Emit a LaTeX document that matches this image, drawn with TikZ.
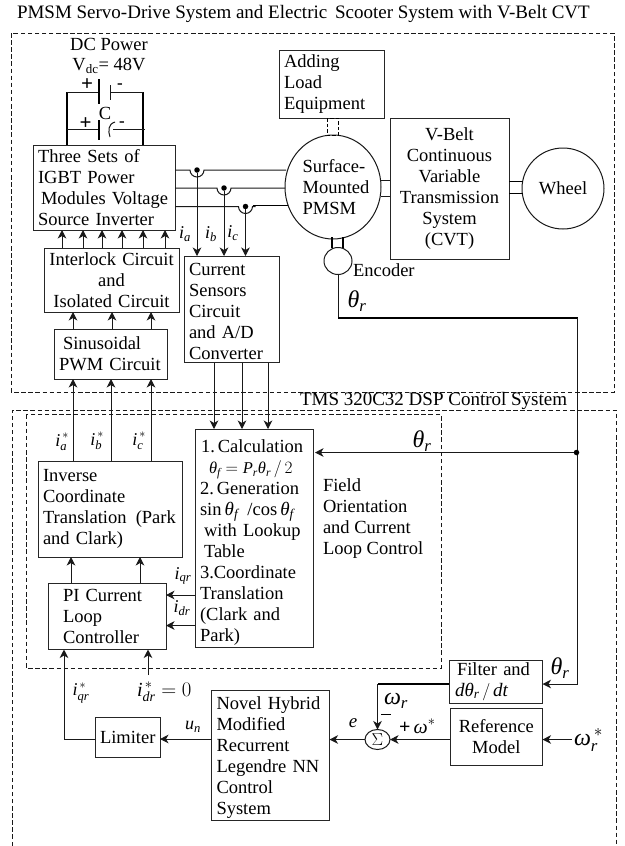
\documentclass[tikz,border=0pt]{standalone}
\usepackage{fontspec}
\usepackage{amsmath}
\setmainfont{Liberation Serif}
\usetikzlibrary{arrows.meta,calc,shapes.geometric}
\newcommand{\ti}[1]{\textit{#1}}
\newcommand{\bx}[7][]{%
  \pgfmathsetmacro{\bxw}{#5-#3}\pgfmathsetmacro{\bxh}{#6-#4}%
  \pgfmathsetmacro{\bxt}{#5-#3-10}%
  \node[boxn,minimum width=\bxw pt,minimum height=\bxh pt,text width=\bxt pt,#1] (#2) at ($(#3,#4)!.5!(#5,#6)$) {#7};}
\tikzset{
  base/.style={font=\fontsize{18.5}{21}\selectfont},
  boxn/.style={base,draw=black!85,line width=1pt,rectangle,inner xsep=5pt,inner ysep=0pt,outer sep=0pt,align=left},
  lab/.style={base,inner sep=0pt,outer sep=0pt,align=center},
  sym/.style={inner sep=0pt,outer sep=0pt,font=\fontsize{18}{20}\selectfont},
  bigsym/.style={inner sep=0pt,outer sep=0pt,font=\fontsize{24}{26}\selectfont},
  round/.style={base,draw=black!90,line width=1pt,ellipse,inner sep=0pt,outer sep=0pt},
  wire/.style={line width=1pt,draw=black!90},
  heavy/.style={line width=1.6pt,draw=black},
  arr/.style={wire,-{Stealth[length=8.5pt,width=8.5pt,inset=2.5pt]}},
  dsh/.style={line width=1pt,dash pattern=on 4.5pt off 2.6pt,draw=black!90},
  dotn/.style={circle,fill=black,inner sep=0pt,outer sep=0pt,minimum size=5.5pt},
}
\begin{document}
\begin{tikzpicture}[x=1pt,y=-1pt]
\useasboundingbox (0,0) rectangle (624,846);
\fill[white] (0,0) rectangle (624,846);
% title
\node[lab,anchor=west,font=\fontsize{19}{21}\selectfont] (title) at (17,13.5) {PMSM Servo-Drive System and Electric\hspace{3pt} Scooter System with V-Belt CVT};
% dashed frames
\coordinate (fa) at (11,33); \coordinate (fb) at (614,392);
\draw[dsh] (fa) rectangle (fb);
\coordinate (ga) at (12,846); \coordinate (gb) at (12,410); \coordinate (gc) at (616,410); \coordinate (gd) at (616,846);
\draw[dsh] (ga) -- (gb) -- (gc) -- (gd);
\coordinate (ha) at (26,414.5); \coordinate (hb) at (441,668);
\draw[dsh] (ha) rectangle (hb);
\node[lab,anchor=west,font=\fontsize{19}{21}\selectfont] (dsp) at (300,401) {TMS 320C32 DSP Control System};
% DC side
\node[lab] (dc) at (109,44.5) {DC Power};
\node[lab] (vdc) at (109,65.5) {V\textsubscript{dc}= 48V};
\bx{three}{33}{145}{175}{230}{Three Sets of\\IGBT Power\\\hspace{3pt}Modules Voltage\\Source Inverter}
\coordinate (bl1) at (67,92); \coordinate (br1) at (143,92);
\coordinate (bl2) at (67,129); \coordinate (br2) at (143,129);
\coordinate (pa) at (99,92); \coordinate (pb) at (110,92);
\coordinate (qa) at (99,129); \coordinate (qb) at (113,129);
\draw[heavy] (bl1) -- ([xshift=34pt]three.north west);
\draw[heavy] (br1) -- ([xshift=110pt]three.north west);
\draw[wire] (bl1) -- (pa);
\draw[wire] (pb) -- (br1);
\draw[wire] (bl2) -- (qa);
\draw[wire] (qb) -- (145,129);
\draw[line width=1.7pt] (99,79) -- (99,104);
\draw[wire] (110,85) -- (110,100);
\draw[line width=1.7pt] (99,120) -- (99,140);
\draw[wire] (115,122) .. controls (108,124) and (108,131) .. (110,137);
\node[lab,font=\bfseries\fontsize{21}{18}\selectfont] (p1) at (87,85) {+};
\node[lab,font=\bfseries\fontsize{17}{18}\selectfont] (m1) at (120,86) {-};
\node[lab,font=\bfseries\fontsize{21}{18}\selectfont] (p2) at (85.5,124) {+};
\node[lab,font=\bfseries\fontsize{17}{18}\selectfont] (m2) at (122,124) {-};
\node[lab] (cc) at (105,113) {C};
% boxes
\bx[align=center]{inter}{44}{248}{179}{312}{Interlock Circuit\\and\\Isolated Circuit}
\bx{sinp}{54}{329}{167}{379}{\hspace{4pt}Sinusoidal\\PWM Circuit}
\bx{cur}{184}{256}{279}{362.5}{\rule{0pt}{17pt}Current\\Sensors\\Circuit\\and A/D\\Converter}
\bx{load}{279}{50}{384}{118}{Adding\\Load\\Equipment}
\bx[align=center]{cvt}{390}{118.5}{509}{259.5}{V-Belt\\Continuous\\Variable\\Transmission\\System\\(CVT)}
\node[round,minimum width=96pt,minimum height=104pt] (motor) at (333,187) {};
\node[lab,align=left] (mtxt) at (336,187) {Surface-\\Mounted\\PMSM};
\node[round,minimum width=82pt,minimum height=81pt] (wheel) at (563,188.5) {Wheel};
\node[round,minimum width=28pt,minimum height=27pt] (enc) at (338,261) {};
\node[lab,anchor=west] (enctxt) at (353,270.5) {Encoder};
% motor couplings
\draw[wire] ([yshift=7pt]motor.east) -- ([yshift=7pt]cvt.west |- motor.east);
\draw[wire] ([yshift=-9.5pt]motor.east) -- ([yshift=-9.5pt]cvt.west |- motor.east);
\draw[heavy] ([yshift=7.5pt]cvt.east) -- ++(14,0);
\draw[heavy] ([yshift=-4.5pt]cvt.east) -- ++(14,0);
\draw[line width=1.2pt] ([xshift=-6pt]enc.north) -- ++(0,-11);
\draw[line width=1.2pt] ([xshift=5pt]enc.north) -- ++(0,-11);
\draw[line width=1pt,dash pattern=on 3.5pt off 2pt] ([xshift=-4.5pt]load.south) -- ++(0,17) -- ++(11,0) -- ++(0,-17) -- cycle;
% phase wires
\coordinate (ja) at (197,170); \coordinate (jb) at (224,188); \coordinate (jc) at (245.5,206.5);
\draw[wire] (175,170) -- ++(15,0) arc[start angle=180,end angle=0,radius=7] -- (286,170);
\draw[wire] (175,188) -- ++(42,0) arc[start angle=180,end angle=0,radius=7] -- (285,188);
\draw[wire] (175,206.5) -- ++(63.5,0) arc[start angle=180,end angle=0,radius=7] -- ++(3,0);
\draw[heavy] (252.5,205.5) -- (288,205.5);
\node[dotn] (da) at (ja) {}; \node[dotn] (db) at (jb) {}; \node[dotn] (dc2) at (jc) {};
\draw[arr] (da) -- (da |- cur.north);
\draw[arr] (db) -- (db |- cur.north);
\draw[arr] (dc2) -- (dc2 |- cur.north);
\node[sym] (ia) at (185,234) {$\ti{i}_{\ti{a}}$};
\node[sym] (ib) at (211,234) {$\ti{i}_{\ti{b}}$};
\node[sym] (ic) at (233,233) {$\ti{i}_{\ti{c}}$};
% gate arrows
\foreach \dx in {29,50,69,89,110,132}{
  \draw[arr] ([xshift=\dx pt-11pt]inter.north west) -- ([xshift=\dx pt]three.south west);
}
\foreach \dx in {19,58,97}{
  \draw[arr] ([xshift=\dx pt]sinp.north west) -- ([xshift=\dx pt+10pt]inter.south west);
}
% boxes DSP
\bx{inv}{38}{461}{182}{557}{Inverse\\Coordinate\\Translation\hspace{3pt} (Park\\and Clark)}
\bx[inner xsep=2pt,text width=114pt]{calc}{195}{429}{313}{647}{\rule{0pt}{22pt}\hspace{4pt}1.\hspace{3pt}Calculation\\
 \hspace{12pt}{\fontsize{16.5}{16}\selectfont$\ti{θ}_{\ti{f}}=\ti{P}_{\ti{r}}\ti{θ}_{\ti{r}}\,/\,2$}\\
 \hspace{3pt}2.\hspace{3pt}Generation\\
 \hspace{3pt}sin\,{\fontsize{19}{16}\selectfont$\ti{θ}_{\ti{f}}$}\, /cos\,{\fontsize{19}{16}\selectfont$\ti{θ}_{\ti{f}}$}\\
 \hspace{7pt}with Lookup\\
 \hspace{7pt}Table\\
 \hspace{3pt}3.Coordinate\\
 \hspace{3pt}Translation\\
 \hspace{3pt}(Clark and\\
 \hspace{3pt}Park)}
\bx{pi}{48}{583}{166}{649.5}{\hspace{10pt}PI Current\\\hspace{10pt}Loop\\\hspace{10pt}Controller}
\node[lab,anchor=north west,align=left] (foc) at (323,479) {Field\\Orientation\\and Current\\Loop Control};
\bx[align=center]{lim}{95}{717}{160}{757}{Limiter}
\bx{nov}{211.5}{690}{329.5}{820}{\rule{0pt}{17pt}Novel Hybrid\\Modified\\Recurrent\\Legendre NN\\Control\\System}
\bx{fil}{449}{660}{542.5}{703}{\hspace{3pt}Filter and\\\hspace{1pt}{\fontsize{19}{17}\selectfont$\ti{d}\ti{θ}_{\ti{r}}\,/\,\ti{dt}$}}
\bx[align=center]{ref}{450}{708}{542.5}{765}{Reference\\Model}
\node[round,minimum width=25pt,minimum height=20pt,font=\fontsize{17}{17}\selectfont] (sum) at (377.5,739.5) {$\Sigma$};
% i* arrows
\draw[arr] ([xshift=35pt]inv.north west) -- ([xshift=19pt]sinp.south west);
\draw[arr] ([xshift=73pt]inv.north west) -- ([xshift=57pt]sinp.south west);
\draw[arr] ([xshift=113pt]inv.north west) -- ([xshift=97pt]sinp.south west);
\node[sym] (isa) at (62,442) {$\ti{i}_{\ti{a}}^{\,*}$};
\node[sym] (isb) at (97,441) {$\ti{i}_{\ti{b}}^{\,*}$};
\node[sym] (isc) at (139,441) {$\ti{i}_{\ti{c}}^{\,*}$};
% ADC arrows
\draw[arr] ([xshift=30pt]cur.south west) -- ([xshift=19pt]calc.north west);
\draw[arr] ([xshift=58pt]cur.south west) -- ([xshift=47pt]calc.north west);
\draw[arr] ([xshift=84pt]cur.south west) -- ([xshift=73pt]calc.north west);
% PI to inverse
\draw[arr] ([xshift=23pt]pi.north west) -- ([xshift=33pt]inv.south west);
\draw[arr] ([xshift=92pt]pi.north west) -- ([xshift=102pt]inv.south west);
% calc to PI
\draw[arr] ([yshift=-166pt]calc.north west) -- ([yshift=-12pt]pi.north east);
\draw[arr] ([yshift=-196.5pt]calc.north west) -- ([yshift=-42.5pt]pi.north east);
\node[sym] (iqr) at (183,576) {$\ti{i}_{\ti{qr}}$};
\node[sym] (idr) at (182,608) {$\ti{i}_{\ti{dr}}$};
% below PI
\coordinate (lk) at (64,739);
\draw[wire] ([yshift=-22pt]lim.north west) -- (lk);
\draw[arr] (lk) -- (lk |- pi.south);
\coordinate (idz) at (148,675);
\draw[arr] (idz) -- (idz |- pi.south);
\node[sym] (iqs) at (81,693) {$\ti{i}_{\ti{qr}}^{\,*}$};
\node[sym,anchor=west,font=\fontsize{20}{20}\selectfont] (ids) at (137,692) {$\ti{i}_{\ti{dr}}^{\,*}=0$};
% bottom chain
\draw[arr] ([yshift=-49pt]nov.north west) -- ([yshift=-22pt]lim.north east);
\node[sym] (un) at (193,727) {$\ti{u}_{\ti{n}}$};
\draw[arr] (sum) -- (sum -| nov.east);
\node[sym,font=\fontsize{19}{20}\selectfont] (ee) at (353,723) {$\ti{e}$};
\draw[arr] (ref.west |- sum) -- (sum);
\node[sym,anchor=west,font=\fontsize{20}{20}\selectfont] (ws) at (399,726) {\textbf{+}\,$\ti{ω}^{*}$};
\coordinate (wst) at (572,739.5);
\draw[arr] (wst) -- (wst -| ref.east);
\node[bigsym,anchor=west] (wrs) at (574,740) {$\ti{ω}_{\ti{r}}^{\,*}$};
% omega feedback
\coordinate (wk) at (377.5,684);
\draw[heavy] (fil.west |- wk) -- (wk);
\draw[arr] (wk) -- (sum);
\node[bigsym] (wr) at (396,701) {$\ti{ω}_{\ti{r}}$};
\coordinate (mn) at (381,714.5); \coordinate (mn2) at (391,714.5);
\draw[line width=1pt] (mn) -- (mn2);
% encoder line
\coordinate (ea) at (338,318); \coordinate (eb) at (577.5,318); \coordinate (ec) at (577.5,684);
\draw[wire] (enc.south) -- (ea);
\draw[heavy] (ea) -- (eb);
\draw[wire] (eb) -- (ec);
\draw[arr] (ec) -- (ec -| fil.east);
\node[dotn] (dj) at (576.5,452.5) {};
\coordinate (cin) at (315,452.5);
\draw[arr] (dj) -- (cin);
\node[bigsym] (th1) at (357,301) {$\ti{θ}_{\ti{r}}$};
\node[bigsym] (th2) at (422,441) {$\ti{θ}_{\ti{r}}$};
\node[bigsym] (th3) at (560,668) {$\ti{θ}_{\ti{r}}$};
\end{tikzpicture}
\end{document}
